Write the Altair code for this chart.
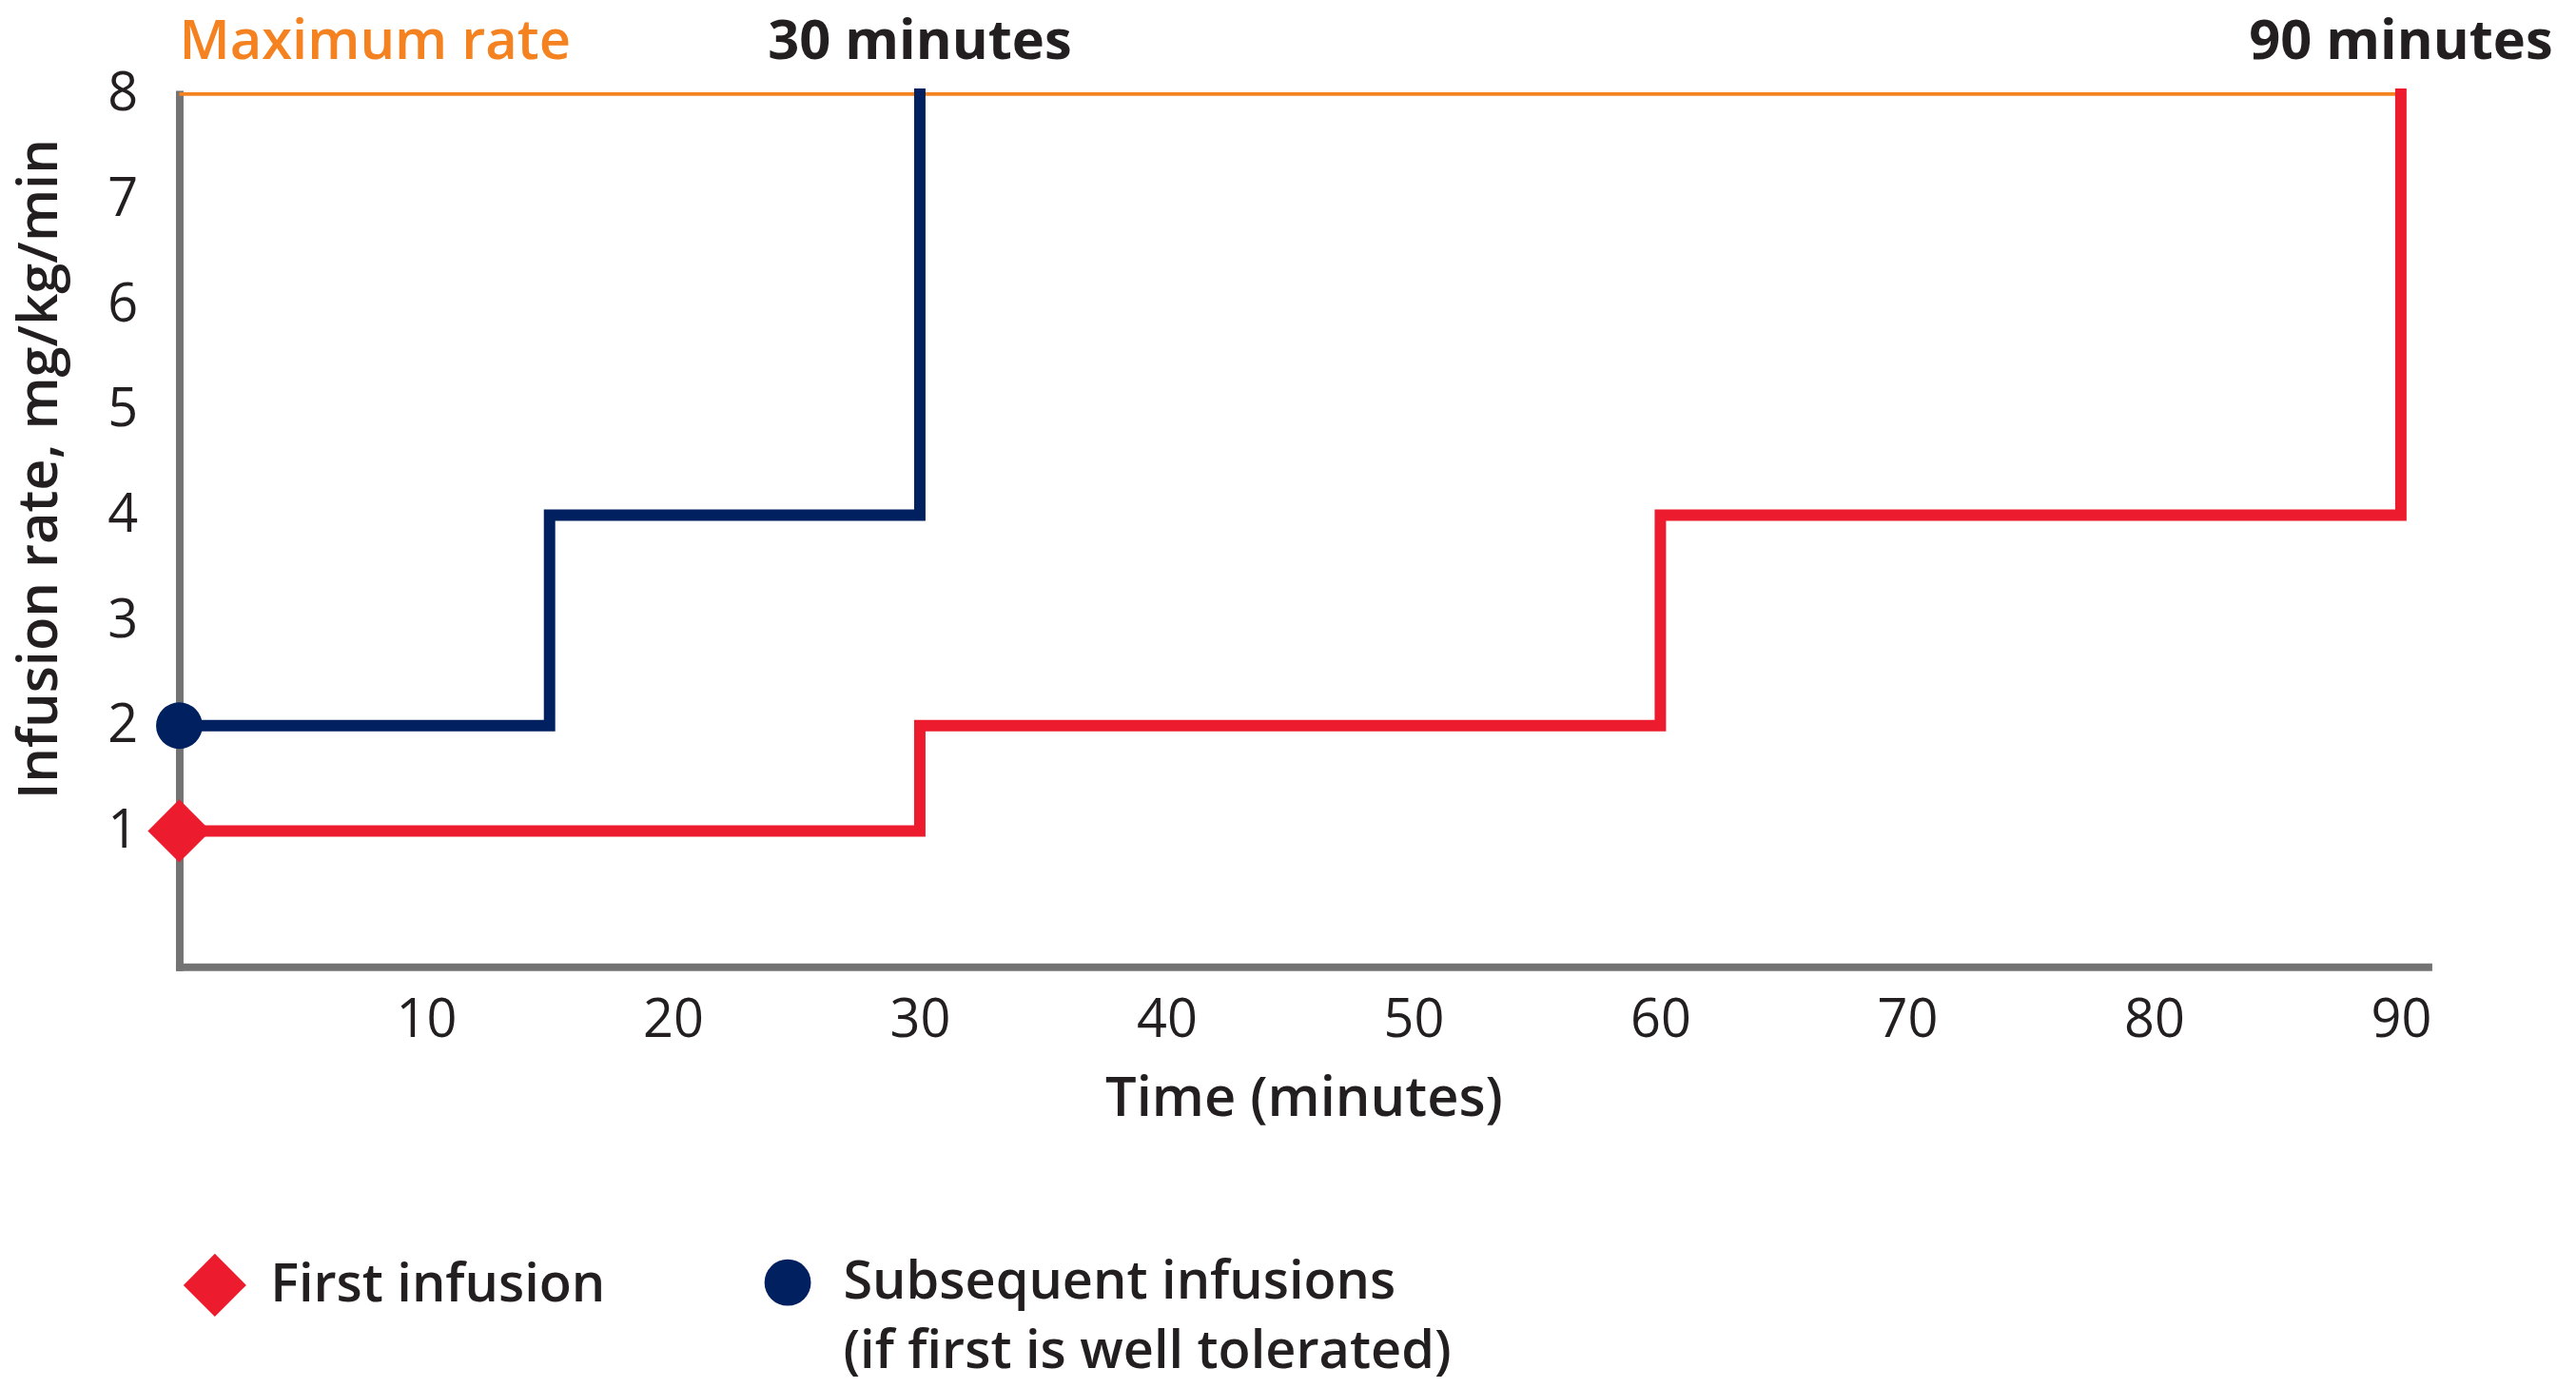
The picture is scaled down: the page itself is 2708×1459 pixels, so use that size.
import altair as alt
import pandas as pd

# ---- data ----
series_names = ["First infusion", "Subsequent infusions"]
first_times = [0, 30, 60, 90]
first_rates = [1, 2, 4, 8]
subsequent_times = [0, 15, 30]
subsequent_rates = [2, 4, 8]
max_rate_value = 8
max_rate_span = [0, 90]
max_rate_label = "Maximum rate"
duration_labels = ["30 minutes", "90 minutes"]
duration_times = [30, 90]
x_ticks = [10, 20, 30, 40, 50, 60, 70, 80, 90]
y_ticks = [1, 2, 3, 4, 5, 6, 7, 8]

RED = "#EC1C2E"
NAVY = "#002060"
ORANGE = "#F58220"
GRAY = "#737373"
TEXT = "#231F20"
FONT = "Open Sans"

first_df = pd.DataFrame({"time": first_times, "rate": first_rates})
subsequent_df = pd.DataFrame({"time": subsequent_times, "rate": subsequent_rates})
starts = pd.DataFrame({
    "series": series_names,
    "time": [first_times[0], subsequent_times[0]],
    "rate": [first_rates[0], subsequent_rates[0]],
})
max_df = pd.DataFrame({"x": [max_rate_span[0]], "x2": [max_rate_span[1]], "y": [max_rate_value]})
max_label_df = pd.DataFrame({"x": [max_rate_span[0]], "y": [max_rate_value], "label": [max_rate_label]})
dur_df = pd.DataFrame({"x": duration_times, "y": [max_rate_value] * len(duration_times), "label": duration_labels})

x_scale = alt.Scale(domain=[0, 91.1], nice=False, zero=False)
y_scale = alt.Scale(domain=[-0.29, 8], nice=False, zero=False)

x_axis = alt.Axis(
    values=x_ticks, format="d", title="Time (minutes)", grid=False, ticks=False,
    domainColor=GRAY, domainWidth=8, domainCap="square",
    labelFont=FONT, labelFontSize=56, labelColor=TEXT, labelPadding=30,
    titleFont=FONT, titleFontSize=58, titleFontWeight=600, titleColor=TEXT,
    titleY=140, titleBaseline="middle",
)
y_axis = alt.Axis(
    values=y_ticks, format="d", title="Infusion rate, mg/kg/min", grid=False, ticks=False,
    domainColor=GRAY, domainWidth=8, domainCap="square",
    labelFont=FONT, labelFontSize=56, labelColor=TEXT, labelPadding=44,
    titleFont=FONT, titleFontSize=58, titleFontWeight=600, titleColor=TEXT,
    titleX=-146, titleY=395, titleBaseline="middle", titleAlign="center", titleAngle=270,
)

legend = alt.Legend(
    title=None, orient="none", legendX=4, legendY=1222, direction="horizontal",
    columns=2, columnPadding=158, padding=0,
    labelFont=FONT, labelFontSize=56, labelFontWeight=600, labelColor=TEXT,
    labelOffset=25, labelLimit=0, labelBaseline="middle",
    labelExpr=(
        "datum.label == 'Subsequent infusions' ? "
        "['Subsequent infusions', '(if first is well tolerated)'] : [datum.label, '']"
    ),
    symbolStrokeWidth=0, symbolOpacity=1,
)

max_line = alt.Chart(max_df).mark_rule(color=ORANGE, strokeWidth=4).encode(
    x=alt.X("x:Q", scale=x_scale, axis=x_axis),
    x2="x2:Q",
    y=alt.Y("y:Q", scale=y_scale, axis=y_axis),
)

line_style = dict(interpolate="step-after", strokeWidth=12, strokeJoin="miter", strokeCap="square")
first_line = alt.Chart(first_df).mark_line(color=RED, **line_style).encode(
    x=alt.X("time:Q", scale=x_scale, axis=x_axis),
    y=alt.Y("rate:Q", scale=y_scale, axis=y_axis),
)
subsequent_line = alt.Chart(subsequent_df).mark_line(color=NAVY, **line_style).encode(
    x=alt.X("time:Q", scale=x_scale, axis=x_axis),
    y=alt.Y("rate:Q", scale=y_scale, axis=y_axis),
)

points = alt.Chart(starts).mark_point(filled=True, opacity=1).encode(
    x=alt.X("time:Q", scale=x_scale, axis=x_axis),
    y=alt.Y("rate:Q", scale=y_scale, axis=y_axis),
    color=alt.Color("series:N", scale=alt.Scale(domain=series_names, range=[RED, NAVY]), legend=legend),
    shape=alt.Shape("series:N", scale=alt.Scale(domain=series_names, range=["diamond", "circle"]), legend=legend),
    size=alt.Size("series:N", scale=alt.Scale(domain=series_names, range=[4400, 2400]), legend=legend),
)

max_text = alt.Chart(max_label_df).mark_text(
    align="left", baseline="middle", dy=-54, font=FONT, fontSize=58, fontWeight=600, color=ORANGE
).encode(x=alt.X("x:Q", scale=x_scale), y=alt.Y("y:Q", scale=y_scale), text="label:N")

dur_text = alt.Chart(dur_df).mark_text(
    align="center", baseline="middle", dy=-54, font=FONT, fontSize=58, fontWeight=700, color=TEXT
).encode(x=alt.X("x:Q", scale=x_scale), y=alt.Y("y:Q", scale=y_scale), text="label:N")

chart = alt.layer(max_line, first_line, subsequent_line, points, max_text, dur_text).properties(
    width=2371, height=920,
    autosize=alt.AutoSizeParams(type="none"),
    padding={"left": 181, "top": 89, "right": 148, "bottom": 431},
).configure(
    background="white",
    view=alt.ViewConfig(strokeWidth=0),
    style={"guide-label": {"lineHeight": 73}},
)

chart.save("out.html", embed_options={"renderer": "svg", "actions": False})
